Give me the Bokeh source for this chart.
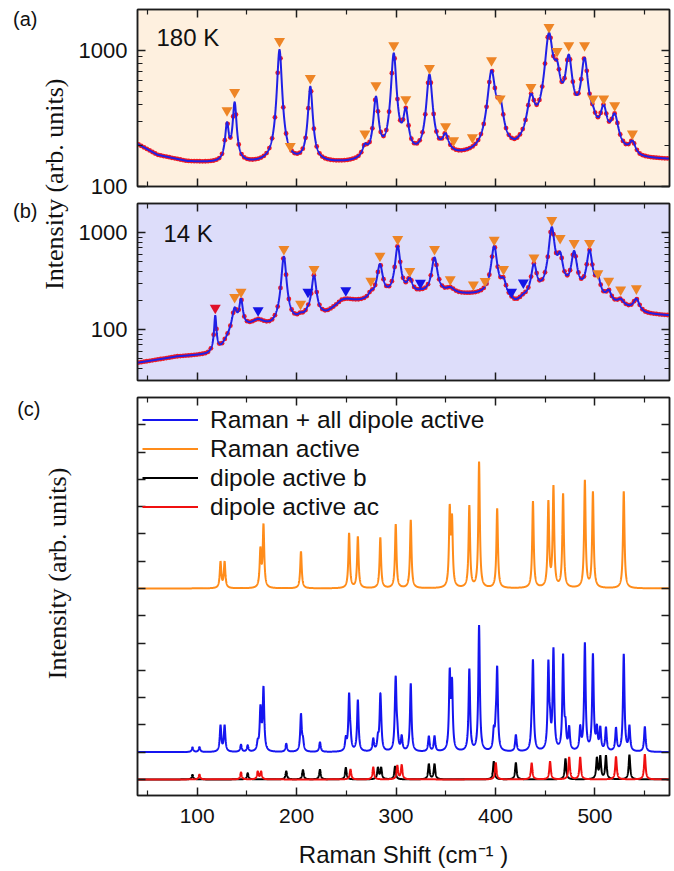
import json
import numpy as np
from bokeh.plotting import figure
from bokeh.layouts import column
from bokeh.models import (FixedTicker, LinearAxis, LogAxis, Range1d, Label,
                          Legend, LegendItem, PrintfTickFormatter,
                          CustomJSTickFormatter)
from bokeh.embed import file_html
from bokeh.resources import INLINE

# ---------------------------------------------------------------- data
x_major = [100, 200, 300, 400, 500]
x_minor = [50, 150, 250, 350, 450, 550]
x_tick_labels = ["100", "200", "300", "400", "500"]

# (a) 180 K : fitted peaks (centre cm-1, curve top intensity, half width)
a_pos = [130.0, 137.7, 182.8, 193.6, 213.8, 268.7, 279.8, 297.7, 309.8, 333.6,
         349.8, 357.9, 376.8, 396.0, 404.7, 435.7, 453.8, 461.9, 473.7, 489.6,
         498.0, 508.8, 519.9, 537.7]
a_top = [297, 417, 1012, 170, 543, 207, 459, 955, 379, 667,
         247, 190, 190, 713, 454, 481, 1350, 844, 934, 884,
         394, 400, 344, 218]
a_hw = [2.0, 2.0, 2.3, 2.5, 2.3, 3.0, 2.6, 2.6, 2.8, 3.0,
        3.5, 3.5, 4.0, 4.0, 3.5, 4.0, 4.0, 3.5, 3.5, 3.5,
        3.0, 3.5, 4.0, 3.5]
a_mark = [362, 493, 1170, 198, 625, 245, 553, 1089, 436, 741,
          276, 218, 229, 844, 442, 537, 1483, 988, 1089, 1089,
          442, 442, 394, 244]
a_bg_x = [40, 60, 90, 130, 250, 300, 340, 380, 420, 440, 455, 480, 500, 520, 545, 575]
a_bg_y = [205, 170, 152, 146, 146, 150, 158, 162, 165, 200, 240, 240, 210, 175, 155, 155]

# (b) 14 K
b_pos = [118.2, 137.7, 144.1, 161.3, 187.2, 204.0, 211.4, 217.5, 249.5, 274.7,
         283.8, 301.7, 313.8, 324.5, 338.7, 354.5, 377.8, 389.6, 398.7, 408.1,
         416.2, 428.0, 438.7, 456.6, 465.0, 479.1, 494.6, 503.0, 513.8, 525.9,
         541.7]
b_top = [140, 170, 209, 129, 566, 151, 178, 365, 209, 255,
         476, 730, 346, 262, 557, 276, 239, 245, 730, 346,
         214, 235, 483, 1144, 636, 650, 664, 365, 259, 209,
         209]
b_hw = [1.2, 2.5, 2.0, 8.0, 2.5, 3.0, 3.0, 2.5, 10.0, 3.0,
        3.0, 2.7, 3.0, 4.0, 3.0, 5.0, 5.0, 4.0, 3.0, 3.0,
        3.0, 4.0, 3.0, 3.0, 3.0, 3.0, 3.0, 3.0, 3.0, 4.0,
        3.5]
b_mark = [168, 217, 245, 158, 676, 185, 245, 422, 255, 318,
          576, 859, 402, 303, 676, 330, 292, 316, 845, 422,
          245, 306, 553, 1343, 881, 781, 781, 380, 318, 259,
          266]
b_mark_kind = ["X", "R", "R", "D", "R", "R", "D", "R", "D", "R",
               "R", "R", "R", "D", "R", "R", "R", "R", "R", "R",
               "D", "D", "R", "R", "R", "R", "R", "R", "R", "R",
               "R"]
b_bg_x = [40, 80, 110, 124, 135, 150, 175, 195, 230, 245, 270, 300, 330, 370,
          395, 412, 420, 435, 450, 470, 490, 510, 530, 550, 575]
b_bg_y = [45, 52, 54, 62, 92, 100, 100, 112, 140, 180, 190, 210, 225, 225,
          222, 190, 172, 190, 210, 215, 205, 180, 160, 142, 138]

# (c) calculated spectra: mode position and peak height
raman_pos = [123.5, 127.6, 163.6, 166.7, 204.4, 252.8, 261.6, 284.2, 299.7, 314.8,
             354.0, 356.3, 373.7, 383.5, 401.7, 437.7, 453.2, 458.3, 468.0, 489.9,
             498.0, 529.0]
raman_top = [1.0, 1.0, 1.53, 2.38, 1.36, 2.04, 1.91, 1.87, 2.36, 2.51,
             3.09, 2.73, 3.06, 4.65, 2.94, 3.2, 3.24, 3.79, 3.49, 3.98,
             3.56, 3.56]
dip_b_pos = [95.3, 150.8, 189.6, 206.4, 223.5, 249.5, 281.8, 285.0, 299.0, 333.0,
             338.7, 398.3, 420.5, 470.4, 502.0, 505.4, 511.1, 534.7]
dip_b_top = [0.17, 0.23, 0.30, 0.35, 0.36, 0.43, 0.45, 0.45, 0.48, 0.57,
             0.57, 0.66, 0.61, 0.76, 0.82, 0.88, 0.88, 0.90]
dip_ac_pos = [102.3, 144.1, 160.9, 164.3, 254.2, 277.1, 301.3, 305.7, 400.3, 436.4,
              454.9, 474.1, 485.2, 521.2, 550.2]
dip_ac_top = [0.18, 0.26, 0.30, 0.30, 0.37, 0.45, 0.52, 0.54, 0.61, 0.60,
              0.66, 0.82, 0.82, 0.84, 0.92]
series_names = ["Raman + all dipole active", "Raman active", "dipole active b", "dipole active ac"]

# ---------------------------------------------------------------- helpers
X0, X1 = 40, 575
C_HW = 0.9
OFF_ORANGE, OFF_BLUE = 7.0, 1.0


def lor(x, x0, w):
    return 1.0 / (1.0 + ((x - x0) / w) ** 2)


def spectrum(xs, pos, top, hw, bg):
    pos = np.asarray(pos, float)
    top = np.asarray(top, float)
    hw = np.asarray(hw, float) * np.ones_like(pos)
    K = lor(pos[:, None], pos[None, :], hw[None, :])
    base = bg(pos)
    amp = np.maximum(top - base, 0.0)
    for _ in range(500):
        amp = np.maximum(amp + 0.5 * (top - base - K @ amp), 0.0)
    return bg(xs) + lor(xs[:, None], pos[None, :], hw[None, :]) @ amp


def log_bg(bx, by):
    ly = np.log10(np.asarray(by, float))
    return lambda x: 10 ** np.interp(x, bx, ly)


zero_bg = lambda x: np.zeros_like(np.asarray(x, float))

FONT = "Liberation Sans"
SERIF = "Liberation Serif"
AX = "#1c1c1c"
TXT = "#111111"
DOT = "#EE1C24"
FIT = "#2020E6"
ORANGE = "#EE8526"
TRI = {"R": "#EE8526", "D": "#1414E6", "X": "#E0102A"}


def make_fig(height, y_range, log, top, bottom, bg=None):
    p = figure(width=674, height=height, x_range=Range1d(X0, X1), y_range=y_range,
               y_axis_type="log" if log else "linear", output_backend="svg",
               toolbar_location=None, min_border_left=137, min_border_right=5,
               min_border_top=top, min_border_bottom=bottom)
    p.grid.visible = False
    p.outline_line_color = AX
    p.outline_line_width = 1.5
    if bg:
        p.background_fill_color = bg
    return p


def style(ax, ticks, minor, labels, size="22px"):
    ax.ticker = FixedTicker(ticks=ticks, minor_ticks=minor)
    ax.major_tick_in = 8
    ax.major_tick_out = 0
    ax.minor_tick_in = 5
    ax.minor_tick_out = 0
    ax.axis_line_color = AX
    ax.axis_line_width = 1.5
    ax.major_tick_line_color = AX
    ax.major_tick_line_width = 1.5
    ax.minor_tick_line_color = AX
    ax.minor_tick_line_width = 1.2
    if labels:
        ax.major_label_text_font = FONT
        ax.major_label_text_font_size = size
        ax.major_label_text_color = TXT
    else:
        ax.formatter = CustomJSTickFormatter(code="return ''")
        ax.major_label_standoff = 0


def frame_axes(p, yt, ymin, log, ylabels=True):
    xb = p.below[0]
    yl = p.left[0]
    style(xb, x_major, x_minor, False)
    style(yl, yt, ymin, ylabels)
    top = LinearAxis()
    style(top, x_major, x_minor, False)
    p.add_layout(top, "above")
    right = LogAxis() if log else LinearAxis()
    style(right, yt, ymin, False)
    p.add_layout(right, "right")
    return xb, yl


def side_text(p, log, yval, txt, font, size, standoff, vertical=False):
    """Text placed in the left margin through a label-only axis tick."""
    ax = LogAxis() if log else LinearAxis()
    ax.ticker = FixedTicker(ticks=[yval], minor_ticks=[])
    ax.formatter = CustomJSTickFormatter(code="return " + json.dumps(txt) + ";")
    ax.axis_line_color = None
    ax.major_tick_line_color = None
    ax.minor_tick_line_color = None
    ax.major_tick_in = 0
    ax.major_tick_out = 0
    ax.minor_tick_in = 0
    ax.minor_tick_out = 0
    ax.major_label_standoff = standoff
    ax.major_label_text_font = font
    ax.major_label_text_font_size = size
    ax.major_label_text_color = TXT
    if vertical:
        ax.major_label_orientation = "vertical"
    p.add_layout(ax, "left")


def text(p, s, x, y, size, font=FONT):
    p.add_layout(Label(x=x, y=y, x_units="screen", y_units="screen", text=s,
                       text_font=font, text_font_size=size, text_color=TXT,
                       text_align="left", text_baseline="middle"))


xs = np.arange(X0, X1 + 0.05, 0.1)
xd = np.arange(41.0, 575.0, 2.8)

# ---------------------------------------------------------------- (a)
bg_a = log_bg(a_bg_x, a_bg_y)
pa = make_fig(198, Range1d(100, 2000), True, 9, 12, "#FEF0DF")
minor_a = [200, 300, 400, 500, 600, 700, 800, 900, 2000]
_, ya = frame_axes(pa, [100, 1000], minor_a, True)
ya.formatter = PrintfTickFormatter(format="%d")
ya.major_label_standoff = 10
side_text(pa, True, 237, "(arb. units)", SERIF, "26px", 6, vertical=True)
side_text(pa, True, 1690, "(a)", FONT, "20px", 0)
pa.scatter(xd, spectrum(xd, a_pos, a_top, a_hw, bg_a), size=4.8, color=DOT, line_color=None)
pa.line(xs, spectrum(xs, a_pos, a_top, a_hw, bg_a), line_color=FIT, line_width=2)
pa.scatter(a_pos, a_mark, marker="inverted_triangle", size=11, color=ORANGE, line_color=None)
text(pa, "180 K", 19, 149, "24px")

# ---------------------------------------------------------------- (b)
bg_b = log_bg(b_bg_x, b_bg_y)
pb = make_fig(191, Range1d(30, 2000), True, 5, 9, "#DDDDFA")
minor_b = [30, 40, 50, 60, 70, 80, 90, 200, 300, 400, 500, 600, 700, 800, 900, 2000]
_, yb = frame_axes(pb, [100, 1000], minor_b, True)
yb.formatter = PrintfTickFormatter(format="%d")
yb.major_label_standoff = 10
side_text(pb, True, 759, "Intensity", SERIF, "26px", 6, vertical=True)
side_text(pb, True, 1655, "(b)", FONT, "20px", 0)
pb.scatter(xd, spectrum(xd, b_pos, b_top, b_hw, bg_b), size=4.8, color=DOT, line_color=None)
pb.line(xs, spectrum(xs, b_pos, b_top, b_hw, bg_b), line_color=FIT, line_width=2)
pb.scatter(b_pos, b_mark, marker="inverted_triangle", size=11,
           color=[TRI[k] for k in b_mark_kind], line_color=None)
text(pb, "14 K", 26, 147, "24px")

# ---------------------------------------------------------------- (c)
pc = make_fig(482, Range1d(-0.59, 14.0), False, 8, 76)
xa, yc = frame_axes(pc, list(range(0, 14)), [], False, ylabels=False)
side_text(pc, False, 7.55, "Intensity (arb. units)", SERIF, "26px", 65, vertical=True)
side_text(pc, False, 13.59, "(c)", FONT, "20px", 0)
xa.formatter = PrintfTickFormatter(format="%d")
xa.major_label_overrides = {t: s for t, s in zip(x_major, x_tick_labels)}
xa.major_label_text_font = FONT
xa.major_label_text_font_size = "21px"
xa.major_label_text_color = TXT
xa.major_label_standoff = 13
xa.axis_label = "Raman Shift (cm\u207b\u00b9 )"
xa.axis_label_text_font = FONT
xa.axis_label_text_font_style = "normal"
xa.axis_label_text_font_size = "24px"
xa.axis_label_text_color = TXT
xa.axis_label_standoff = 15

y_raman = spectrum(xs, raman_pos, raman_top, C_HW, zero_bg)
y_b = spectrum(xs, dip_b_pos, dip_b_top, C_HW, zero_bg)
y_ac = spectrum(xs, dip_ac_pos, dip_ac_top, C_HW, zero_bg)
r_or = pc.line(xs, OFF_ORANGE + y_raman, line_color="#FF8C1A", line_width=2)
r_bl = pc.line(xs, OFF_BLUE + y_raman + y_b + y_ac, line_color="#1515F0", line_width=2)
r_bk = pc.line(xs, y_b, line_color="#000000", line_width=2)
r_rd = pc.line(xs, y_ac, line_color="#F01010", line_width=2)
legend = Legend(items=[LegendItem(label=series_names[0], renderers=[r_bl]),
                       LegendItem(label=series_names[1], renderers=[r_or]),
                       LegendItem(label=series_names[2], renderers=[r_bk]),
                       LegendItem(label=series_names[3], renderers=[r_rd])],
                location=(5, 274), border_line_color=None, background_fill_alpha=0,
                label_text_font=FONT, label_text_font_size="24.5px",
                label_text_color=TXT, glyph_width=56, glyph_height=29,
                label_height=29, label_standoff=12, spacing=0, padding=6, margin=0)
pc.add_layout(legend)

layout = column(pa, pb, pc, spacing=0)
open("out.html", "w").write(file_html(layout, INLINE))
